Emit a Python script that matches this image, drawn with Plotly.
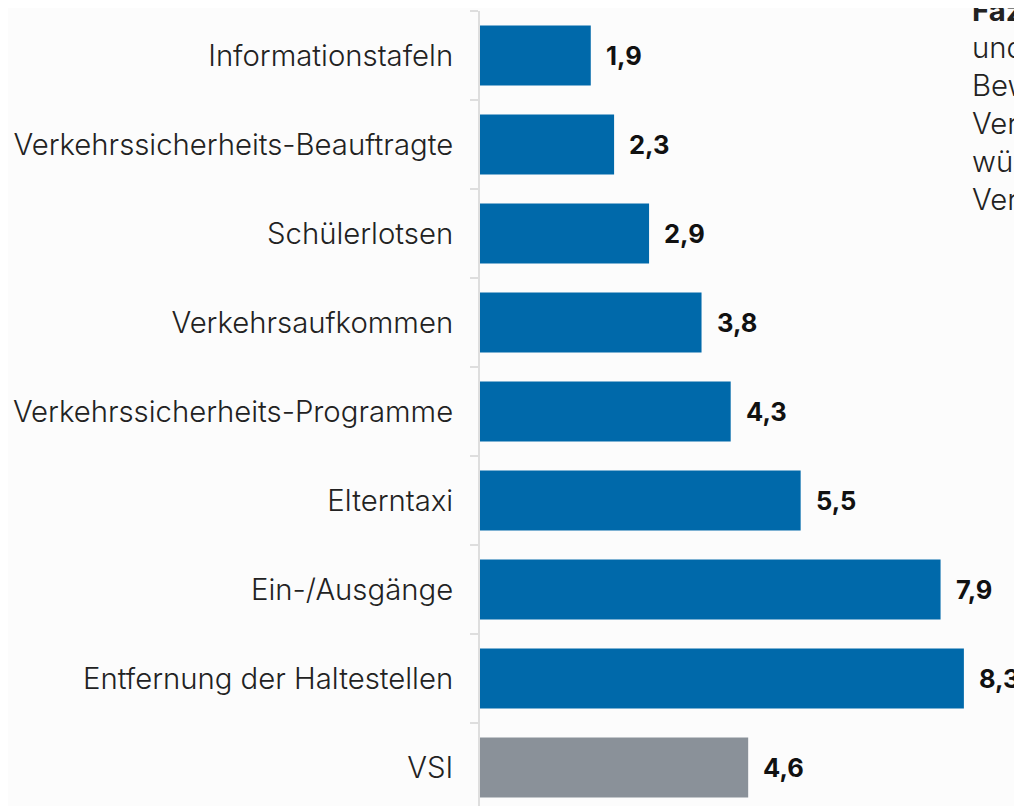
import plotly.graph_objects as go

categories = ["Informationstafeln", "Verkehrssicherheits-Beauftragte", "Schülerlotsen",
              "Verkehrsaufkommen", "Verkehrssicherheits-Programme", "Elterntaxi",
              "Ein-/Ausgänge", "Entfernung der Haltestellen", "VSI"]
values = [1.9, 2.3, 2.9, 3.8, 4.3, 5.5, 7.9, 8.3, 4.6]
bar_colors = ["#0069aa"] * 8 + ["#8a9199"]
side_lines = ["<b>Fazit:</b>", "und", "Bewertung", "Verkehrs-", "würden", "Verbesserung"]

FONT = "Inter"
LABEL_SIZE = 29.3
VALUE_SIZE = 25.5

# page is offset by an 8px body margin
W, H = 1014, 798
L, T = 472, 3
PLOT_W = W - L
PLOT_H = H - T

fig = go.Figure()
fig.add_trace(go.Bar(
    x=values, y=categories, orientation="h",
    marker=dict(color=bar_colors, line=dict(width=0)),
    hoverinfo="skip",
))

for v, c in zip(values, categories):
    fig.add_annotation(x=v, y=c, xref="x", yref="y",
                       text="<b>" + f"{v:.1f}".replace(".", ",") + "</b>",
                       showarrow=False, xanchor="left", xshift=13,
                       font=dict(family=FONT, size=VALUE_SIZE, color="#111111"))

for i, t in enumerate(side_lines):
    page_y = 10 + 38 * i
    page_x = 970
    fig.add_annotation(x=(page_x - 8 - L) / PLOT_W, y=1 - (page_y - 8 - T) / PLOT_H,
                       xref="paper", yref="paper",
                       text=t, showarrow=False, xanchor="left", yanchor="middle",
                       font=dict(family=FONT, size=LABEL_SIZE, color="#222222", weight=300))

fig.update_layout(
    width=W, height=H,
    margin=dict(l=L, r=0, t=T, b=0),
    paper_bgcolor="#fcfcfc", plot_bgcolor="#fcfcfc",
    bargap=0.326, showlegend=False,
    font=dict(family=FONT, size=LABEL_SIZE, color="#222222"),
    xaxis=dict(range=[0, PLOT_W / 58.3], visible=False, fixedrange=True),
    yaxis=dict(categoryorder="array", categoryarray=categories,
               range=[8.433, -0.5], autorange=False,
               showline=True, linecolor="#dedede", linewidth=2,
               ticks="outside", tickson="boundaries", ticklen=8, tickcolor="#dedede", tickwidth=2,
               showgrid=False, zeroline=False, ticklabelstandoff=19,
               tickfont=dict(family=FONT, size=LABEL_SIZE, color="#222222", weight=300)),
)

fig.write_html("out.html")
